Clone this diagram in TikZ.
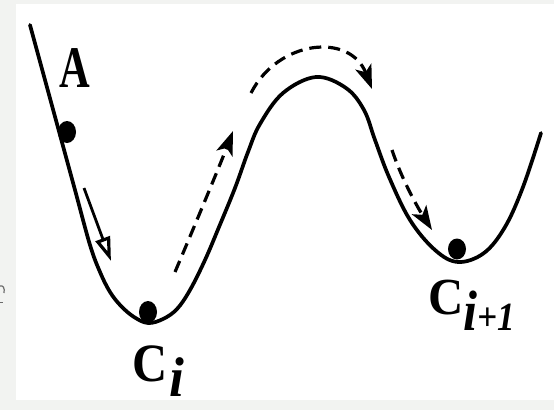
\documentclass[tikz,border=0pt]{standalone}
\usepackage{fontspec}
\setmainfont{Liberation Serif}
\usetikzlibrary{arrows.meta}
\definecolor{bgframe}{HTML}{F2F3F1}
\definecolor{markgray}{HTML}{6A6A6A}
\begin{document}
\begin{tikzpicture}[x=1pt,y=-1pt,
  curve/.style={line width=3.7pt, line cap=round, line join=round},
  dasharrow/.style={line width=3.2pt, dash pattern=on 12pt off 7pt,
     -{Stealth[length=24pt,width=17pt,inset=6pt]}},
  solidarrow/.style={line width=2.8pt,
     -{Triangle[open,length=24pt,width=15pt,line width=3.2pt]}},
  ball/.style={fill=black},
  lbl/.style={inner sep=0pt, anchor=base}
]
\useasboundingbox (0,0) rectangle (554,410);
\fill[bgframe] (0,0) rectangle (554,410);
\fill[white] (16,4) rectangle (554,400);
% small fragment on the left margin
\draw[markgray, line width=1.2pt] (0,286) .. controls (3,285) and (5,288) .. (4,293);
\draw[markgray, line width=1pt] (0,302) -- (3,302);

% energy curve
\draw[curve] plot[smooth, tension=0.6] coordinates {(30,25) (45,80) (60,135) (75,190) (90,245) (100,272) (110,292) (121,306) (134,317) (148,323) (163,319) (177,309) (190,290) (205,260) (219,227) (235,188) (248,152) (260,124) (283,93) (316,77) (346,88) (364,110) (375,140) (389,177) (410,220) (435,250) (458,262) (484,253) (505,227) (523,187) (541,133)};

% balls
\fill[ball] (67,132) ellipse [x radius=9pt, y radius=11pt];
\fill[ball] (148,312) ellipse [x radius=9pt, y radius=11pt];
\fill[ball] (457,249) ellipse [x radius=9pt, y radius=10.5pt];

% arrow end points
\coordinate (s1) at (84,188);
\coordinate (e1) at (111,261);
\coordinate (s2) at (175,272);
\coordinate (e2) at (233,131);
\coordinate (s3) at (251,93);
\coordinate (e3) at (372,89);
\coordinate (s4) at (392,150);
\coordinate (e4) at (432,230);

\draw[solidarrow] (s1) -- (e1);
\draw[dasharrow] (s2) .. controls (195,225) and (222,160) .. (e2);
\draw[dasharrow] (s3) .. controls (278,40) and (350,32) .. (e3);
\draw[dasharrow] (s4) .. controls (402,180) and (418,208) .. (e4);

% labels
\node[lbl] (labA) at (74.5,87) {\scalebox{0.72}[1]{\fontsize{59}{62}\selectfont\bfseries A}};
\node[lbl] (labC1) at (150,381) {\scalebox{0.9}[1]{\fontsize{54}{56}\selectfont\bfseries C}};
\node[lbl] (subC1) at (177,396) {\scalebox{0.95}[1]{\fontsize{56}{58}\selectfont\bfseries\itshape i}};
\node[lbl] (labC2) at (446.5,314) {\scalebox{0.94}[1]{\fontsize{52}{54}\selectfont\bfseries C}};
\node[lbl] (subC2) at (489,330) {\scalebox{0.88}[1]{\fontsize{57}{58}\selectfont\bfseries\itshape i\fontsize{40}{44}\selectfont +1}};
\end{tikzpicture}
\end{document}
